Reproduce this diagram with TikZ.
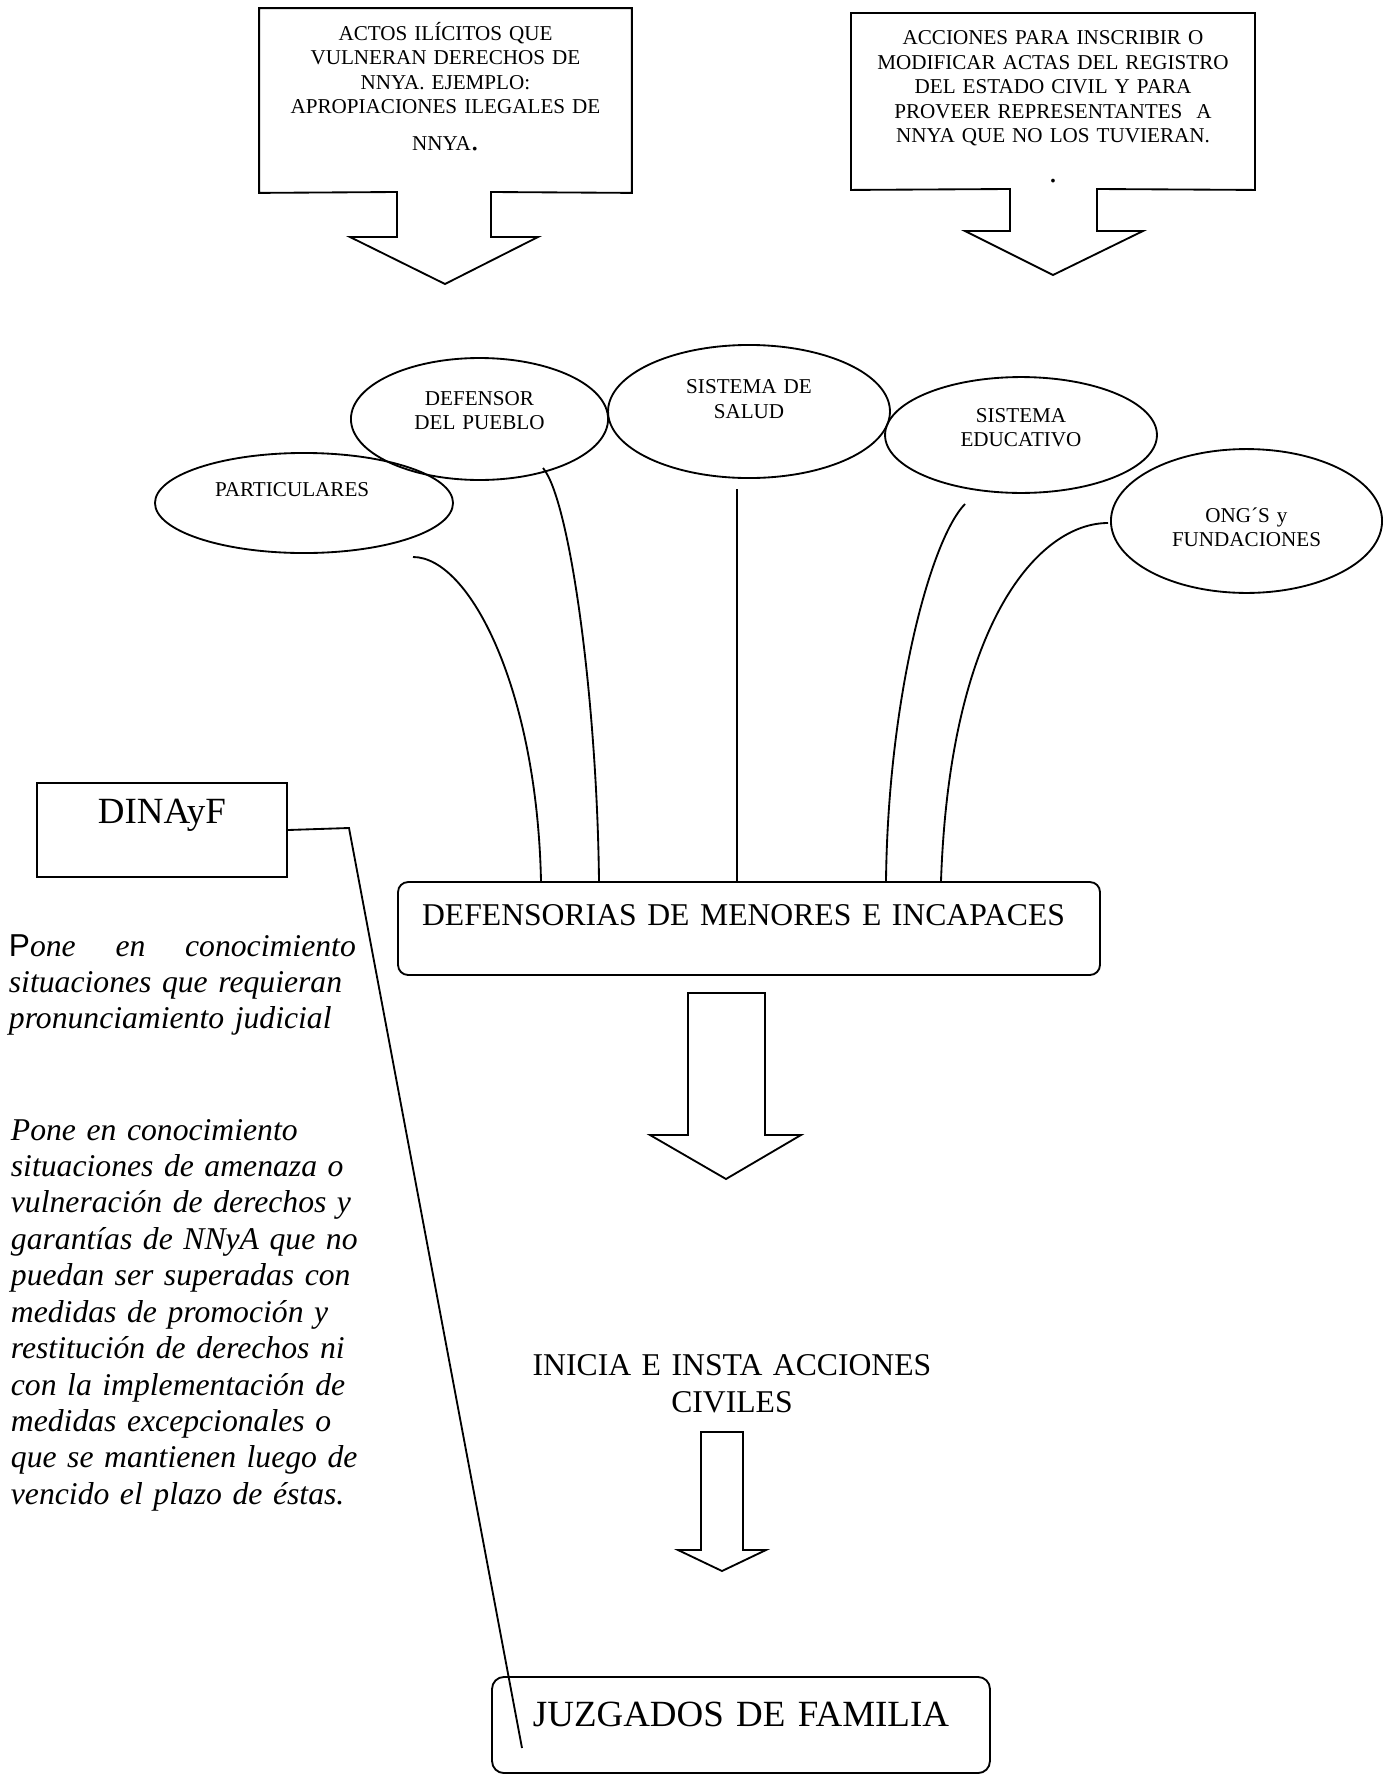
\documentclass[tikz,border=0pt]{standalone}
\usepackage{fontspec}
\setmainfont{Liberation Serif}
\setsansfont{Liberation Sans}
\usetikzlibrary{shapes.geometric,positioning}

\begin{document}
\begin{tikzpicture}[x=0.3788pt,y=-0.3788pt,line width=0.7pt,
    callout node/.style={inner sep=0,align=center,font=\fontsize{8}{9.3}\selectfont},
    oval node/.style={ellipse,draw,inner sep=0,text width=60pt,align=center,text height=6pt,font=\fontsize{8}{9.3}\selectfont},
    box node/.style={draw,inner sep=0,align=center,font=\fontsize{14}{16}\selectfont},
    note node/.style={inner sep=0,align=left,text width=140pt,anchor=base west,font=\itshape\fontsize{12}{13.8}\selectfont}]
            \useasboundingbox (0,0) rectangle (1388,1774);

            \node[callout node] (1) [text width=140.5pt,text height=11.8pt,text depth=57.5pt] at (445.5,100.5) {ACTOS ILÍCITOS QUE\\ VULNERAN DERECHOS DE\\ NNYA. EJEMPLO:\\ APROPIACIONES ILEGALES DE\\[4.7pt] NNYA{\fontsize{12}{14}\selectfont .}};
            \node[callout node] (2) [text width=152.3pt,text height=11.6pt,text depth=54.7pt] at (1053,101.5) {ACCIONES PARA INSCRIBIR O\\ MODIFICAR ACTAS DEL REGISTRO\\ DEL ESTADO CIVIL Y PARA\\ PROVEER REPRESENTANTES\ \ A\\ NNYA QUE NO LOS TUVIERAN.\\[5.9pt] {\fontsize{12}{14}\selectfont .}};

            \node[oval node] (3) [text width=75pt,minimum width=112.9pt,minimum height=37.9pt,text depth=10.55pt] at (304,503) {PARTICULARES\hspace*{9pt}\mbox{}};
            \node[oval node] (4) [minimum width=97.4pt,minimum height=46.2pt,text depth=16.6pt] at (479.5,419) {DEFENSOR\\ DEL PUEBLO};
            \node[oval node] (5) [minimum width=106.8pt,minimum height=50.4pt,text depth=19.3pt] at (749,411.5) {SISTEMA DE\\ SALUD};
            \node[oval node] (6) [minimum width=103pt,minimum height=43.9pt,text depth=15.85pt] at (1021,435) {SISTEMA\\ EDUCATIVO};
            \node[oval node] (7) [minimum width=102.7pt,minimum height=54.5pt,text height=11.4pt,text depth=10.6pt] at (1246.5,521) {ONG´S y\\ FUNDACIONES};

            \node[box node] (8) [text width=94.7pt,text height=15.5pt,text depth=20.1pt] at (162,830) {DINAyF};
            \node[box node] (9) [rounded corners=3.8pt,align=left,inner xsep=9.1pt,text width=247.7pt,text height=16.5pt,text depth=18.7pt,font=\fontsize{12}{14}\selectfont] at (749,928.5) {DEFENSORIAS DE MENORES E INCAPACES};
            \node[] (10) [inner sep=0,text width=170pt,align=center,anchor=base,font=\fontsize{12}{14}\selectfont] at (732,1375.5) {INICIA E INSTA ACCIONES\\ CIVILES};
            \node[box node] (11) [rounded corners=4.5pt,text width=188.6pt,text height=18.9pt,text depth=17.5pt] at (741,1725) {JUZGADOS DE FAMILIA};

            \node[note node] (12) at (8,956) {\makebox[131.4pt][s]{{\upshape\sffamily P}one\hfill en\hfill conocimiento}\\ situaciones que requieran\\ pronunciamiento judicial};
            \node[note node] (13) at (10,1140) {Pone en conocimiento\\ situaciones de amenaza o\\ vulneración de derechos y\\ garantías de NNyA que no\\ puedan ser superadas con\\ medidas de promoción y\\ restitución de derechos ni\\ con la implementación de\\ medidas excepcionales o\\ que se mantienen luego de\\ vencido el plazo de éstas.};

            \draw (1.north west) -- (1.north east) -- (1.south east) -- (491,192) -- (491,237) -- (538,237) -- (445,284) -- (350,237) -- (397,237) -- (397,192) -- (1.south west) -- cycle;
            \draw (2.north west) -- (2.north east) -- (2.south east) -- (1097,189) -- (1097,231) -- (1143,231) -- (1053,275) -- (965,231) -- (1010,231) -- (1010,189) -- (2.south west) -- cycle;
            \draw (688,993) -- (765,993) -- (765,1135) -- (801,1135) -- (726,1179) -- (650,1135) -- (688,1135) -- cycle;
            \draw (701,1432) -- (743,1432) -- (743,1550) -- (766,1550) -- (722,1571) -- (678,1550) -- (701,1550) -- cycle;

            \coordinate (c3) at (413,557);
            \coordinate (c4) at (543,468);
            \coordinate (c5) at (737,489);
            \coordinate (c6) at (965,504);
            \coordinate (c7) at (1108,523);
            \coordinate (c8) at (522,1748);

            \draw (c3) .. controls (470,557) and (537,690) .. (541,0 |- 9.north);
            \draw (c4) .. controls (570,500) and (597,700) .. (599,0 |- 9.north);
            \draw (c5) -- (c5 |- 9.north);
            \draw (c6) .. controls (930,540) and (888,700) .. (886,0 |- 9.north);
            \draw (c7) .. controls (1040,523) and (950,620) .. (941,0 |- 9.north);
            \draw (8.east) -- (349,828) -- (c8);
        \end{tikzpicture}
\end{document}
